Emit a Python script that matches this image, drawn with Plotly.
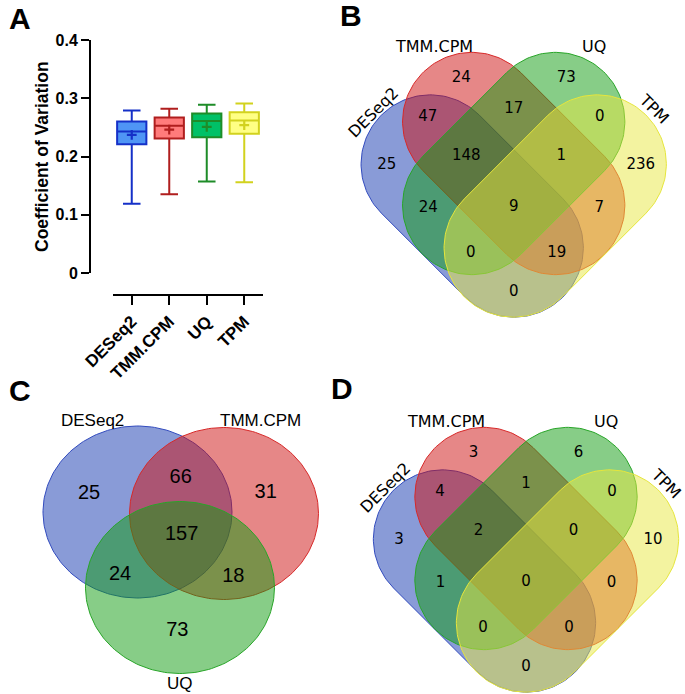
import numpy as np
import plotly.graph_objects as go

W, H = 685, 694

# ---------------- Panel A data (coefficient of variation box plot) ----------------
methods = ["DESeq2", "TMM.CPM", "UQ", "TPM"]
cv_lower = [0.119, 0.135, 0.157, 0.156]
cv_q1 = [0.221, 0.231, 0.233, 0.239]
cv_median = [0.243, 0.253, 0.261, 0.262]
cv_q3 = [0.260, 0.267, 0.274, 0.276]
cv_upper = [0.279, 0.282, 0.289, 0.291]
cv_mean = [0.237, 0.246, 0.251, 0.254]
y_ticks = [0, 0.1, 0.2, 0.3, 0.4]
y_ticklabels = ["0", "0.1", "0.2", "0.3", "0.4"]

box_fill = ["#4f95f5", "#ff7b7b", "#00c167", "#ffff84"]
box_line = ["#1530c8", "#b01e1e", "#1e8c28", "#d2d21e"]

# ---------------- Panel B / D data (4-set Venn) ----------------
venn4_sets = ["DESeq2", "TMM.CPM", "UQ", "TPM"]
venn4_regions = ["T", "U", "DT", "TU", "UP", "D", "DTU", "TUP", "P",
                 "DU", "DTUP", "TP", "DUP", "DTP", "DP"]
venn_B_counts = [24, 73, 47, 17, 0, 25, 148, 1, 236, 24, 9, 7, 0, 19, 0]
venn_D_counts = [3, 6, 4, 1, 0, 3, 2, 0, 10, 1, 0, 0, 0, 0, 0]

# ---------------- Panel C data (3-set Venn) ----------------
venn3_sets = ["DESeq2", "TMM.CPM", "UQ"]
venn3_regions = ["D", "DT", "T", "DTU", "DU", "TU", "U"]
venn_C_counts = [25, 66, 31, 157, 24, 18, 73]

# ---------------- styling / layout geometry ----------------
set_fill = ["rgba(20,55,175,0.5)", "rgba(205,15,15,0.5)",
            "rgba(15,155,15,0.5)", "rgba(231,231,65,0.5)"]
set_line = ["rgb(50,75,190)", "rgb(215,40,40)", "rgb(40,165,40)", "rgb(230,230,60)"]

# 4-set capsule geometry (relative to venn origin, pixel units)
cap_r = 69.3
cap_half = 41.85          # half of the end-to-end offset along each axis
cap_centers = [(-41.5, 21.0), (0.0, -21.5), (0.0, -21.5), (41.5, 21.0)]
cap_dirs = [(1, 1), (1, 1), (-1, 1), (-1, 1)]
reg4_off = [(-52.5, -107), (52.5, -107), (-86, -67.5), (0, -75.7), (86, -67.5),
            (-127, -19.5), (-47.5, -29), (47.5, -29), (127, -19.5),
            (-85.5, 23), (0, 22.3), (85.5, 23), (-43, 68.7), (43, 68.7), (0, 107.7)]
lab4_off = [(-140.5, -72.5, -45), (-80, -139, 0), (80, -139, 0), (140, -76.5, 45)]
origin_B = (513.7, 185.0)
origin_D = (526.0, 560.0)

# 3-set ellipses (pixel units)
ell_centers = [(137.5, 512.0), (224.0, 513.5), (180.0, 587.5)]
ell_rx, ell_ry = 94.5, 86.0
reg3_pos = [(89, 494), (180.7, 478.3), (265.7, 493.3), (181.7, 535),
            (120, 575), (233.3, 576.7), (177.3, 631)]
lab3_pos = [(92.7, 420), (260, 420.7), (180, 683.3)]

fig = go.Figure()

# ---------------- Panel A traces ----------------
for i, m in enumerate(methods):
    fig.add_trace(go.Box(
        x=[m], q1=[cv_q1[i]], median=[cv_median[i]], q3=[cv_q3[i]],
        lowerfence=[cv_lower[i]], upperfence=[cv_upper[i]],
        fillcolor=box_fill[i], line=dict(color=box_line[i], width=2),
        width=0.78, whiskerwidth=0.6, boxpoints=False, showlegend=False,
        xaxis="x", yaxis="y", hoverinfo="skip"))
    fig.add_trace(go.Scatter(
        x=[m], y=[cv_mean[i]], mode="markers",
        marker=dict(symbol="cross-thin", size=7,
                    line=dict(color=box_line[i], width=2.2)),
        showlegend=False, xaxis="x", yaxis="y", hoverinfo="skip"))


def capsule(c1, c2, r, n=80):
    c1 = np.array(c1, float)
    c2 = np.array(c2, float)
    a0 = np.arctan2(c2[1] - c1[1], c2[0] - c1[0])
    t2 = np.linspace(a0 - np.pi / 2, a0 + np.pi / 2, n)
    t1 = np.linspace(a0 + np.pi / 2, a0 + 3 * np.pi / 2, n)
    xs = np.concatenate([c2[0] + r * np.cos(t2), c1[0] + r * np.cos(t1), [c2[0] + r * np.cos(t2[0])]])
    ys = np.concatenate([c2[1] + r * np.sin(t2), c1[1] + r * np.sin(t1), [c2[1] + r * np.sin(t2[0])]])
    return xs, ys


def ellipse(cx, cy, rx, ry, n=200):
    t = np.linspace(0, 2 * np.pi, n)
    return cx + rx * np.cos(t), cy + ry * np.sin(t)


def venn4(origin, counts):
    ox, oy = origin
    for k in range(4):
        cx, cy = ox + cap_centers[k][0], oy + cap_centers[k][1]
        ddx, ddy = cap_dirs[k][0] * cap_half, cap_dirs[k][1] * cap_half
        xs, ys = capsule((cx - ddx, cy - ddy), (cx + ddx, cy + ddy), cap_r)
        fig.add_trace(go.Scatter(x=xs, y=ys, mode="lines", fill="toself",
                                 fillcolor=set_fill[k], line=dict(color=set_line[k], width=1),
                                 showlegend=False, xaxis="x2", yaxis="y2", hoverinfo="skip"))
    fig.add_trace(go.Scatter(
        x=[ox + dx for dx, dy in reg4_off], y=[oy + dy for dx, dy in reg4_off],
        text=[str(c) for c in counts], mode="text",
        textfont=dict(family="DejaVu Sans", size=15, color="black"),
        showlegend=False, xaxis="x2", yaxis="y2", hoverinfo="skip"))
    for k in range(4):
        dx, dy, ang = lab4_off[k]
        fig.add_annotation(x=ox + dx, y=oy + dy, xref="x2", yref="y2", text=venn4_sets[k],
                           showarrow=False, textangle=ang, xanchor="center", yanchor="middle",
                           font=dict(family="DejaVu Sans", size=16, color="black"))


venn4(origin_B, venn_B_counts)
venn4(origin_D, venn_D_counts)

# ---------------- Panel C ----------------
for k in range(3):
    cx, cy = ell_centers[k]
    xs, ys = ellipse(cx, cy, ell_rx, ell_ry)
    fig.add_trace(go.Scatter(x=xs, y=ys,
                             mode="lines", fill="toself", fillcolor=set_fill[k],
                             line=dict(color=set_line[k], width=1),
                             showlegend=False, xaxis="x2", yaxis="y2", hoverinfo="skip"))
fig.add_trace(go.Scatter(
    x=[p[0] for p in reg3_pos], y=[p[1] for p in reg3_pos],
    text=[str(c) for c in venn_C_counts], mode="text",
    textfont=dict(family="Liberation Sans, Arial", size=20, color="black"),
    showlegend=False, xaxis="x2", yaxis="y2", hoverinfo="skip"))
for k in range(3):
    fig.add_annotation(x=lab3_pos[k][0], y=lab3_pos[k][1], xref="x2", yref="y2",
                       text=venn3_sets[k], showarrow=False, xanchor="center", yanchor="middle",
                       font=dict(family="Liberation Sans, Arial", size=17, color="black"))

# ---------------- panel letters ----------------
for letter, (px, py) in zip("ABCD", [(20, 18), (351, 16), (20, 390), (342, 388)]):
    fig.add_annotation(x=px / W, y=1 - py / H, xref="paper", yref="paper", text=letter,
                       showarrow=False, xanchor="center", yanchor="middle",
                       font=dict(family="Liberation Sans, Arial", size=30, color="black", weight="bold"))

# y title for panel A
fig.add_annotation(x=42 / W, y=1 - 157 / H, xref="paper", yref="paper",
                   text="Coefficient of Variation", textangle=-90, showarrow=False,
                   xanchor="center", yanchor="middle",
                   font=dict(family="Liberation Sans, Arial", size=17.5, color="black", weight="bold"))

fig.update_layout(
    template="none",
    width=W, height=H, margin=dict(l=0, r=0, t=0, b=0, autoexpand=False),
    paper_bgcolor="white", plot_bgcolor="rgba(0,0,0,0)",
    xaxis=dict(domain=[113 / W, 263 / W], anchor="free", position=1 - 295 / H,
               type="category", categoryorder="array", categoryarray=methods,
               range=[-0.5, 3.5], showline=True, linewidth=2, linecolor="black",
               ticks="outside", ticklen=9, tickwidth=2, tickcolor="black",
               tickangle=-45, showgrid=False, zeroline=False, automargin=False,
               tickfont=dict(family="Liberation Sans, Arial", size=17, color="black", weight="bold")),
    yaxis=dict(domain=[1 - 273 / H, 1 - 40 / H], anchor="free", position=90 / W,
               range=[0, 0.4], tickvals=y_ticks, ticktext=y_ticklabels,
               showline=True, linewidth=2, linecolor="black",
               ticks="outside", ticklen=8, tickwidth=2, tickcolor="black",
               showgrid=False, zeroline=False, automargin=False,
               tickfont=dict(family="Liberation Sans, Arial", size=16, color="black", weight="bold")),
    xaxis2=dict(domain=[0, 1], range=[0, W], visible=False, anchor="y2", fixedrange=True,
                automargin=False),
    yaxis2=dict(domain=[0, 1], range=[H, 0], visible=False, anchor="x2", fixedrange=True,
                automargin=False),
)

fig.write_html("out.html", config={"displayModeBar": False},
               post_script="document.body.style.margin='0px';document.body.style.overflow='hidden';")
